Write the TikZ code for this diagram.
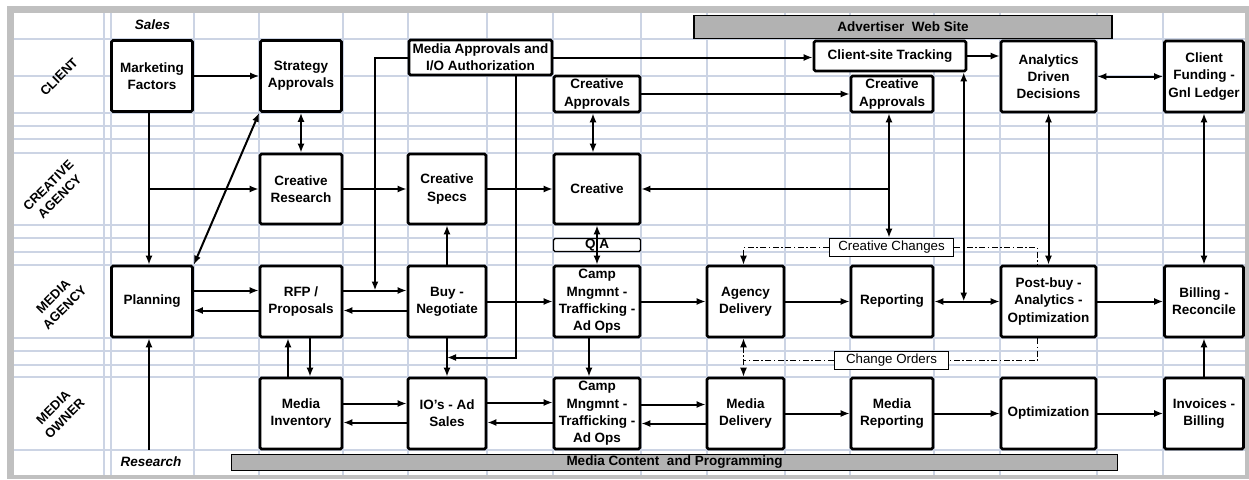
\documentclass[tikz,border=0pt]{standalone}
\usepackage{fontspec}
\setmainfont{Liberation Sans}
\usepackage{xcolor}
\usetikzlibrary{calc}
\usetikzlibrary{arrows.meta}

\definecolor{gridblue}{RGB}{204,212,228}
\definecolor{framegray}{RGB}{192,192,192}
\definecolor{bargray}{RGB}{178,178,178}

\begin{document}
\begin{tikzpicture}[x=1pt,y=-1pt,>={Latex[length=9pt,width=7pt]},
		box/.style={rectangle,draw=black,fill=white,line width=2.6pt,rounded corners=1.5pt,align=center,inner sep=1pt,font=\fontsize{13.5}{17.3}\selectfont\bfseries},
		bar/.style={rectangle,draw=black,fill=bargray,line width=1.6pt,inner sep=0pt,font=\fontsize{13.5}{16}\selectfont\bfseries},
		tag/.style={rectangle,draw=black,fill=white,line width=1.6pt,inner sep=0pt,font=\fontsize{13.3}{16}\selectfont},
		lane/.style={rotate=45,align=center,inner sep=0pt,font=\fontsize{13}{16}\selectfont\bfseries},
		flow/.style={line width=2pt},
		change/.style={line width=1.5pt,dash pattern=on 6pt off 2.5pt on 1.5pt off 2.5pt}]
		%frame
		\useasboundingbox (0,0) rectangle (1249,479);
		\fill [framegray] (7,6) rectangle (1249,479);
		\fill [white] (14,13) rectangle (1245,475);

		%grid
		\foreach \gx in {104,111,194,259,343,408,487,553,641,707,785,850,934,1000,1097,1163}
			\draw [gridblue,line width=1.8pt] (\gx,13) -- (\gx,475);
		\foreach \gy in {39,76,113,126,139,153,225,238,252,265,338,351,365,377,450}
			\draw [gridblue,line width=1.8pt] (14,\gy) -- (1245,\gy);

		%lanes
		\node [lane] at (59,77) (client) {CLIENT};
		\node [lane] at (54,191) (creativeagency) {CREATIVE\\AGENCY};
		\node [lane] at (59,302) (mediaagency) {MEDIA\\AGENCY};
		\node [lane] at (59,413) (mediaowner) {MEDIA\\OWNER};
		\node [font=\fontsize{13.5}{16}\selectfont\bfseries\itshape] at (152.5,25) (sales) {Sales};
		\node [font=\fontsize{13.5}{16}\selectfont\bfseries\itshape,minimum height=24] at (151,462) (research) {Research};

		%bars
		\node [bar] at (903,27) (advweb) [minimum width=418, minimum height=23] {Advertiser\ \ Web Site};
		\node [bar] at (674.5,462.5) (content) [minimum width=886, minimum height=16] {Media Content\ \ and Programming};

		%elements
		\node [box] at (152,76) (mkt) [minimum width=81, minimum height=71] {Marketing\\Factors};
		\node [box] at (301,76) (strat) [minimum width=81, minimum height=71] {Strategy\\Approvals};
		\node [box] at (480.5,57.5) (mediaappr) [minimum width=143, minimum height=35] {Media\ Approvals and\\I/O Authorization};
		\node [box] at (597,94) (crappr) [minimum width=86, minimum height=36] {Creative\\Approvals};
		\node [box] at (892,94) (crapprb) [minimum width=82, minimum height=36] {Creative\\Approvals};
		\node [box] at (890,56) (cstrack) [minimum width=152, minimum height=30] {Client-site\ Tracking};
		\node [box] at (1048.5,76.5) (analytics) [minimum width=95, minimum height=71] {Analytics\\Driven\\Decisions};
		\node [box] at (1204,76.5) (funding) [minimum width=79, minimum height=71] {Client\\Funding -\\Gnl Ledger};

		\node [box] at (301,189) (crresearch) [minimum width=82, minimum height=70] {Creative\\Research};
		\node [box] at (447,189) (crspecs) [minimum width=78, minimum height=70] {Creative\\Specs};
		\node [box] at (597,189) (creative) [minimum width=86, minimum height=70] {Creative};

		\node [box,line width=1.4pt,font=\fontsize{13.5}{14}\selectfont\bfseries] at (597,245) (qa) [minimum width=87, minimum height=13, inner sep=0pt] {Q A};
		\node [tag] at (891.5,247.5) (crchanges) [minimum width=124, minimum height=18] {Creative Changes};
		\node [tag] at (891.5,360.5) (chorders) [minimum width=114, minimum height=18] {Change Orders};

		\node [box] at (152,301.5) (planning) [minimum width=81, minimum height=71] {Planning};
		\node [box] at (301,301.5) (rfp) [minimum width=82, minimum height=71] {RFP /\\Proposals};
		\node [box] at (447,301.5) (buy) [minimum width=78, minimum height=71] {Buy -\\Negotiate};
		\node [box] at (597,301.5) (campag) [minimum width=86, minimum height=71] {Camp\\Mngmnt -\\Trafficking -\\Ad Ops};
		\node [box] at (745.5,301.5) (agdel) [minimum width=77, minimum height=71] {Agency\\Delivery};
		\node [box] at (892,301.5) (reporting) [minimum width=82, minimum height=71] {Reporting};
		\node [box] at (1048.5,301.5) (postbuy) [minimum width=95, minimum height=71] {Post-buy -\\Analytics -\\Optimization};
		\node [box] at (1204,301.5) (billing) [minimum width=79, minimum height=71] {Billing -\\Reconcile};

		\node [box] at (301,413.5) (inventory) [minimum width=82, minimum height=71] {Media\\Inventory};
		\node [box] at (447,413.5) (ios) [minimum width=78, minimum height=71] {IO's - Ad\\Sales};
		\node [box] at (597,413.5) (campown) [minimum width=86, minimum height=71] {Camp\\Mngmnt -\\Trafficking -\\Ad Ops};
		\node [box] at (745.5,413.5) (medel) [minimum width=77, minimum height=71] {Media\\Delivery};
		\node [box] at (892,413.5) (medrep) [minimum width=82, minimum height=71] {Media\\Reporting};
		\node [box] at (1048.5,413.5) (optim) [minimum width=95, minimum height=71] {Optimization};
		\node [box] at (1204,413.5) (invoices) [minimum width=79, minimum height=71] {Invoices -\\Billing};

		%helper points
		\coordinate (mx) at ([xshift=-3pt]mkt.south);
		\coordinate (cx) at ([xshift=-3pt]crapprb.south);
		\coordinate (dx) at ([xshift=-2pt]agdel.north);
		\coordinate (px) at ([xshift=-11pt]postbuy.north);
		\coordinate (mid1) at ($(rfp.east)!.5!(buy.west)$);
		\coordinate (mid2) at ($(buy.south)!.5!(ios.north)$);
		\coordinate (mid3) at ($(reporting.east)!.45!(postbuy.west)$);

		%client and creative
		\draw [flow,->] (mkt.east) -- (strat.west);
		\draw [flow,->] (mx) -- (mx |- planning.north);
		\draw [flow,->] (mx |- crresearch.west) -- (crresearch.west);
		\draw [flow,<->] (planning.north east) -- (strat.south west);
		\draw [flow,<->] (strat.south) -- (crresearch.north);
		\draw [flow,->] (crresearch.east) -- (crspecs.west);
		\draw [flow,->] (crspecs.east) -- (creative.west);
		\draw [flow,->] (buy.north) -- (crspecs.south);
		\draw [flow,->] (mediaappr.west) -| ([yshift=11pt]mid1);
		\draw [flow,->] (mediaappr.east) -- (mediaappr.east -| cstrack.west);
		\draw [flow,->] ([xshift=35pt]mediaappr.south) |- (mid2);
		\draw [flow,<->] ([xshift=-4pt]crappr.south) -- ([xshift=-4pt]creative.north);
		\draw [flow,->] (crappr.east) -- (crapprb.west);
		\draw [flow,<->] (cx) -- (cx |- crchanges.north);
		\draw [flow,->] (cx |- creative.east) -- (creative.east);
		\draw [flow,<->] (cstrack.south -| mid3) -- (mid3);
		\draw [flow,->] (cstrack.east) -- (cstrack.east -| analytics.west);
		\draw [flow,<->] (analytics.east) -- (funding.west);
		\draw [flow,<->] (analytics.south) -- (postbuy.north);
		\draw [flow,<->] (funding.south) -- (billing.north);

		%media agency
		\draw [flow,->] ([yshift=11pt]planning.east) -- ([yshift=11pt]rfp.west);
		\draw [flow,->] ([yshift=-9pt]rfp.west) -- ([yshift=-9pt]planning.east);
		\draw [flow,->] ([yshift=11pt]rfp.east) -- ([yshift=11pt]buy.west);
		\draw [flow,->] ([yshift=-9pt]buy.west) -- ([yshift=-9pt]rfp.east);
		\draw [flow,->] (buy.east) -- (campag.west);
		\draw [flow,<->] (creative.south) -- (campag.north);
		\draw [flow,->] (campag.east) -- (agdel.west);
		\draw [flow,->] (agdel.east) -- (reporting.west);
		\draw [flow,<->] (reporting.east) -- (postbuy.west);
		\draw [flow,->] (postbuy.east) -- (billing.west);
		\draw [flow,->] ([xshift=-3pt]planning.south |- research.north) -- ([xshift=-3pt]planning.south);

		%media owner
		\draw [flow,->] ([xshift=-13pt]inventory.north) -- ([xshift=-13pt]rfp.south);
		\draw [flow,->] ([xshift=9pt]rfp.south) -- ([xshift=9pt]inventory.north);
		\draw [flow,->] (buy.south) -- (ios.north);
		\draw [flow,->] ([xshift=-8pt]campag.south) -- ([xshift=-8pt]campown.north);
		\draw [flow,->] ([yshift=10pt]inventory.east) -- ([yshift=10pt]ios.west);
		\draw [flow,->] ([yshift=-9pt]ios.west) -- ([yshift=-9pt]inventory.east);
		\draw [flow,->] ([yshift=11pt]ios.east) -- ([yshift=11pt]campown.west);
		\draw [flow,->] ([yshift=-9pt]campown.west) -- ([yshift=-9pt]ios.east);
		\draw [flow,->] ([yshift=9pt]campown.east) -- ([yshift=9pt]medel.west);
		\draw [flow,->] ([yshift=-10pt]medel.west) -- ([yshift=-10pt]campown.east);
		\draw [flow,->] (medel.east) -- (medrep.west);
		\draw [flow,->] (medrep.east) -- (optim.west);
		\draw [flow,->] (optim.east) -- (invoices.west);
		\draw [flow,->] (invoices.north) -- (billing.south);

		%changes
		\draw [change,->] (crchanges.west) -| (dx);
		\draw [change] (crchanges.east) -| (px);
		\draw [change] ([xshift=-11pt]postbuy.south) |- (chorders.east);
		\draw [change] (chorders.west) -- (chorders.west -| dx);
		\draw [change,<->] ([xshift=-2pt]agdel.south) -- ([xshift=-2pt]medel.north);
\end{tikzpicture}
\end{document}
